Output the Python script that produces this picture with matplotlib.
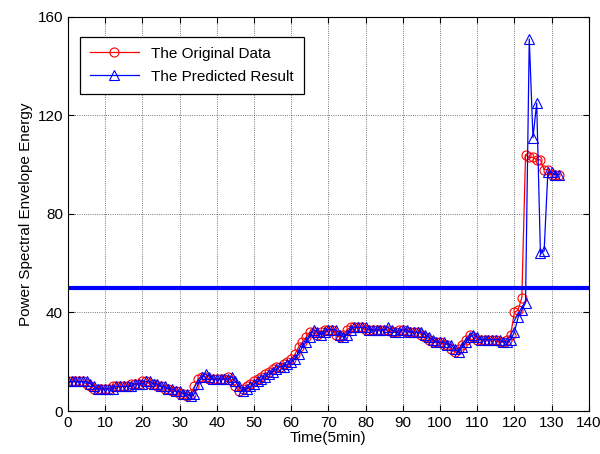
import numpy as np
import matplotlib
matplotlib.use("Agg")
import matplotlib.pyplot as plt

plt.rcParams['font.family'] = ['Liberation Sans', 'DejaVu Sans']

# Original series (one value every 5 min)
original = [12, 12, 12, 12, 12, 11, 10, 9, 9, 9,
            9, 9, 10, 10, 10, 10, 10, 11, 11, 11,
            12, 12, 11, 11, 10, 10, 9, 9, 8, 8,
            7, 7, 6, 7, 10, 13, 14, 14, 13, 13,
            13, 13, 13, 14, 12, 10, 8, 9, 10, 11,
            12, 13, 14, 15, 16, 17, 18, 18, 19, 20,
            21, 23, 26, 28, 30, 32, 32, 31, 32, 33,
            33, 33, 31, 30, 31, 33, 34, 34, 34, 34,
            33, 33, 33, 33, 33, 33, 33, 32, 32, 33,
            33, 32, 32, 32, 32, 31, 30, 29, 28, 28,
            28, 27, 27, 25, 24, 25, 27, 29, 31, 30,
            29, 29, 29, 29, 29, 29, 28, 28, 29, 31,
            40, 41, 46, 104, 103, 103, 102, 102, 98, 98,
            96, 96, 96]

predicted = [12, 12, 12, 12, 12, 12, 11, 10, 9, 9,
             9, 9, 9, 10, 10, 10, 10, 10, 11, 11,
             11, 12, 12, 11, 11, 10, 10, 9, 9, 8,
             8, 7, 7, 6, 7, 11, 14, 15, 14, 13,
             13, 13, 13, 13, 14, 12, 10, 8, 9, 10,
             11, 12, 13, 14, 15, 16, 17, 18, 18, 19,
             20, 21, 23, 26, 28, 30, 33, 32, 31, 32,
             33, 33, 33, 31, 30, 31, 33, 34, 34, 34,
             34, 33, 33, 33, 33, 33, 34, 33, 32, 32,
             33, 33, 32, 32, 32, 32, 31, 30, 29, 28,
             28, 28, 27, 27, 25, 24, 26, 28, 30, 31,
             30, 29, 29, 29, 29, 29, 29, 28, 28, 29,
             32, 38, 41, 44, 151, 111, 125, 64, 65, 97,
             97, 96, 96]

threshold = 50
time = np.arange(len(original))

fig = plt.figure(figsize=(6, 4.54), dpi=100)
ax = fig.add_axes([0.1133, 0.0947, 0.868, 0.868])

ax.plot(time, original, color='red', lw=0.9, marker='o', ms=6.5,
        mfc='none', mec='red', mew=0.8, label='The Original Data')
ax.plot(time, predicted, color='blue', lw=0.9, marker='^', ms=7,
        mfc='none', mec='blue', mew=0.8, label='The Predicted Result')
ax.axhline(threshold, color='blue', lw=3)

ax.set_xlim(0, 140)
ax.set_ylim(0, 160)
ax.set_xticks(np.arange(0, 141, 10))
ax.set_yticks(np.arange(0, 161, 40))
ax.tick_params(direction='in', top=True, right=True, labelsize=11, length=4)
ax.grid(True, color='black', linestyle=':', linewidth=0.6, alpha=0.7)
ax.set_xlabel('Time(5min)', fontsize=11, labelpad=1)
ax.set_ylabel('Power Spectral Envelope Energy', fontsize=11, labelpad=3)

leg = ax.legend(loc='upper left', bbox_to_anchor=(0.023, 0.95), fontsize=11,
                fancybox=False, framealpha=1, edgecolor='black', borderaxespad=0,
                handlelength=3.2, borderpad=0.65, labelspacing=0.6)
leg.get_frame().set_linewidth(0.9)

fig.savefig('out.png', dpi=100)
